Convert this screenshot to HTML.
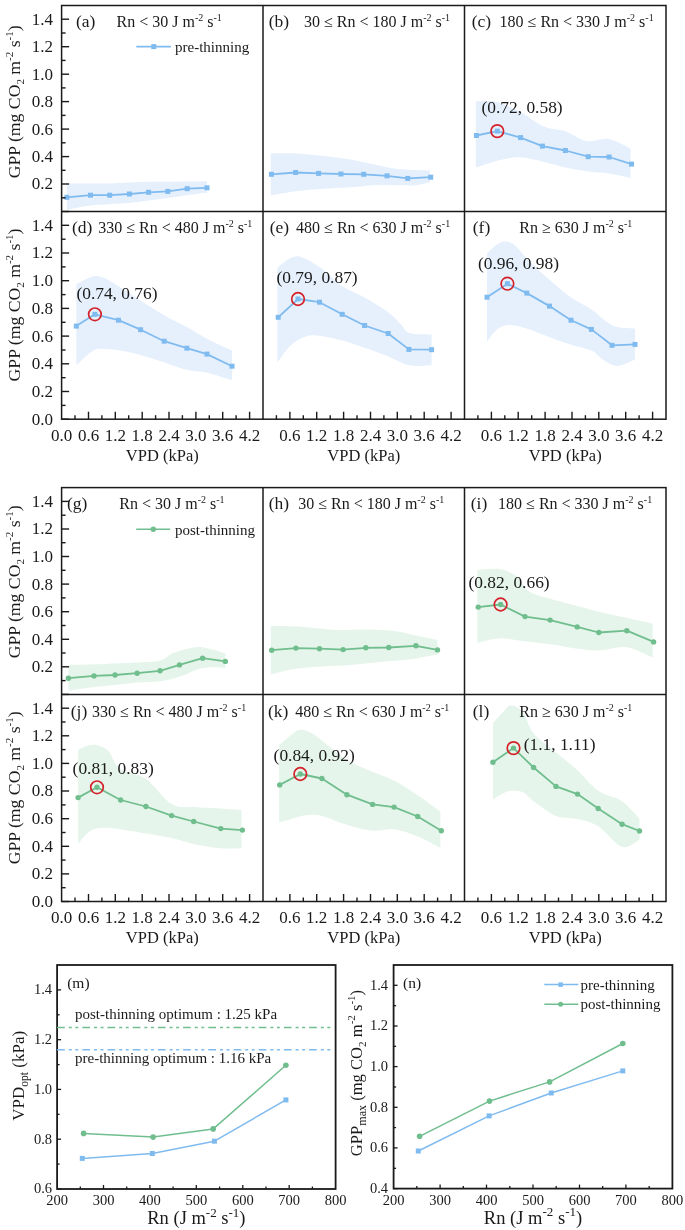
<!DOCTYPE html><html><head><meta charset="utf-8"><style>html,body{margin:0;padding:0;background:#fff;width:685px;height:1230px;overflow:hidden;position:relative}</style></head><body><svg width="685" height="1230" viewBox="0 0 685 1230" style="position:absolute;left:0;top:0;filter:blur(0.4px)">
<g font-family='"Liberation Serif", serif' fill="#1a1a1a">
<path d="M66.9,183.6C74.0,183.6 96.1,183.7 109.7,183.4C123.3,183.1 135.7,182.1 148.6,181.8C161.5,181.5 177.5,181.7 187.2,181.6C196.9,181.5 203.7,181.4 207.0,181.3L207.0,192.8C203.7,193.2 196.9,193.9 187.2,195.2C177.5,196.5 158.2,199.3 148.6,200.6C139.0,201.9 139.1,202.2 129.4,203.0C119.7,203.8 100.9,204.3 90.5,205.5C80.1,206.7 70.8,209.2 66.9,210.0Z" fill="#e6f0fd"/>
<path d="M270.8,153.4C275.2,153.4 289.0,153.0 297.4,153.4C305.8,153.8 312.1,154.7 321.0,155.7C329.9,156.7 341.7,158.0 350.5,159.5C359.3,161.0 366.1,163.0 374.0,164.6C381.9,166.2 388.3,168.0 397.7,169.0C407.1,170.0 424.7,170.2 430.1,170.5L430.1,182.2C427.6,182.7 420.4,184.7 415.0,185.2C409.6,185.7 404.5,185.2 397.7,185.2C390.9,185.2 381.9,184.8 374.0,185.2C366.1,185.5 359.3,186.7 350.5,187.3C341.7,187.9 329.9,188.4 321.0,189.0C312.1,189.6 305.8,190.0 297.4,191.1C289.0,192.2 275.2,194.8 270.8,195.5Z" fill="#e6f0fd"/>
<path d="M475.8,101.3C478.8,101.3 486.6,99.8 493.5,101.3C500.4,102.8 508.8,105.9 517.1,110.1C525.5,114.3 535.7,123.0 543.6,126.4C551.5,129.9 557.2,128.4 564.3,130.8C571.4,133.2 579.0,139.7 586.4,141.1C593.8,142.5 601.1,137.8 608.5,139.0C615.9,140.2 626.9,146.9 630.6,148.5L630.6,178.0C626.9,177.2 615.6,174.6 608.5,173.5C601.4,172.4 595.0,172.5 587.9,171.5C580.8,170.5 573.1,169.2 565.7,167.6C558.3,166.0 551.2,163.4 543.6,161.7C536.0,160.0 527.4,157.5 520.0,157.3C512.6,157.1 506.8,158.6 499.4,160.3C492.0,162.0 479.7,166.4 475.8,167.6Z" fill="#e6f0fd"/>
<path d="M76.3,284.2C79.2,282.9 88.6,277.3 93.4,276.3C98.2,275.3 100.8,276.6 105.2,278.4C109.6,280.2 114.1,283.5 120.0,287.2C125.9,290.9 133.2,295.8 140.6,300.5C148.0,305.2 156.5,310.8 164.2,315.2C171.9,319.6 179.8,323.1 186.9,327.0C194.0,330.9 199.5,334.9 207.0,338.8C214.5,342.7 227.8,348.6 232.0,350.6L232.0,380.1C227.8,378.9 214.5,374.4 207.0,372.7C199.5,371.0 194.0,371.5 186.9,369.8C179.8,368.1 171.9,364.9 164.2,362.4C156.5,359.9 148.0,357.0 140.6,355.0C133.2,353.0 125.9,351.6 120.0,350.6C114.1,349.6 109.6,349.1 105.2,349.1C100.8,349.1 98.2,347.9 93.4,350.6C88.6,353.3 79.2,362.9 76.3,365.3Z" fill="#e6f0fd"/>
<path d="M277.3,268.0C279.2,266.5 284.7,261.1 288.5,259.2C292.3,257.3 294.9,255.3 300.3,256.8C305.7,258.3 314.1,263.2 321.0,268.0C327.9,272.8 334.3,280.8 341.6,285.7C348.9,290.6 356.8,293.1 364.6,297.5C372.4,301.9 382.2,307.9 388.2,312.3C394.2,316.7 397.1,320.7 400.6,324.1C404.1,327.5 404.2,331.2 409.4,332.9C414.6,334.6 427.9,334.1 431.6,334.4L431.6,365.3C427.9,365.3 416.6,366.8 409.4,365.3C402.2,363.8 395.7,359.4 388.2,356.5C380.7,353.6 372.4,350.4 364.6,347.7C356.8,345.0 348.9,342.3 341.6,340.3C334.3,338.3 326.9,336.5 321.0,335.9C315.1,335.2 311.1,334.9 306.2,336.4C301.3,337.9 296.3,340.4 291.5,344.7C286.7,349.0 279.7,359.4 277.3,362.4Z" fill="#e6f0fd"/>
<path d="M487.0,253.3C488.6,251.9 493.3,247.0 496.4,245.0C499.4,243.0 502.1,241.3 505.3,241.5C508.5,241.7 511.9,243.0 515.6,245.9C519.3,248.8 521.8,253.5 527.4,259.2C533.0,264.8 542.2,273.4 549.5,279.8C556.8,286.2 564.0,292.6 571.0,297.5C578.0,302.4 585.6,305.4 591.4,309.3C597.1,313.2 601.2,318.2 605.5,321.1C609.8,324.1 612.4,325.8 617.3,327.0C622.2,328.2 632.0,328.2 635.0,328.5L635.0,359.5C632.0,360.6 622.7,365.9 617.3,365.9C611.9,365.9 606.9,362.1 602.6,359.5C598.3,356.9 596.7,353.1 591.4,350.6C586.1,348.1 578.0,346.9 571.0,344.7C564.0,342.5 556.9,340.0 549.5,337.3C542.1,334.6 533.7,330.6 526.8,328.5C519.9,326.4 513.3,324.8 508.2,325.0C503.1,325.2 499.9,327.2 496.4,330.0C492.9,332.8 488.6,339.8 487.0,341.8Z" fill="#e6f0fd"/>
<path d="M68.4,664.9C74.5,664.8 94.2,664.4 105.2,664.0C116.2,663.6 125.5,663.2 134.7,662.6C143.8,662.0 153.7,662.1 160.1,660.5C166.5,658.9 168.5,655.1 173.1,653.1C177.7,651.1 182.9,649.7 187.8,648.7C192.7,647.7 196.3,646.5 202.6,647.2C208.8,647.9 221.5,652.1 225.3,653.1L225.3,667.9C221.5,667.9 210.2,666.4 202.6,667.9C195.0,669.4 186.6,674.5 179.5,676.7C172.4,678.9 167.2,680.2 160.1,681.2C153.0,682.2 144.6,682.0 137.1,682.6C129.6,683.2 122.2,684.2 115.0,685.0C107.8,685.8 101.8,686.1 94.0,687.1C86.2,688.1 72.7,690.3 68.4,690.9Z" fill="#e6f5eb"/>
<path d="M270.8,625.7C275.2,625.9 286.6,625.9 297.4,626.6C308.2,627.3 324.4,629.6 335.7,630.1C347.0,630.6 355.4,629.4 365.2,629.5C375.0,629.6 386.3,630.0 394.7,631.0C403.1,632.0 408.2,634.0 415.3,635.5C422.4,637.0 433.8,639.2 437.5,639.9L437.5,654.6C432.8,655.4 419.0,658.4 409.4,659.6C399.8,660.8 389.8,661.1 380.0,662.0C370.2,662.9 360.3,664.2 350.5,664.9C340.7,665.6 330.8,665.6 321.0,666.4C311.2,667.1 299.9,668.1 291.5,669.4C283.1,670.7 274.2,673.6 270.8,674.4Z" fill="#e6f5eb"/>
<path d="M477.3,570.0C481.0,569.9 492.8,568.0 499.4,569.1C506.0,570.2 512.2,572.8 517.1,576.5C522.0,580.2 523.5,587.5 528.9,591.2C534.3,594.9 541.5,596.1 549.5,598.6C557.5,601.1 568.8,603.8 577.2,606.0C585.6,608.2 591.4,609.9 599.7,611.9C608.0,613.9 618.0,615.8 626.8,617.8C635.6,619.8 648.4,622.7 652.7,623.7L652.7,657.6C648.4,655.9 635.6,648.4 626.8,647.2C618.0,646.0 608.0,650.0 599.7,650.2C591.4,650.5 585.5,649.7 577.2,648.7C568.9,647.7 558.8,645.5 550.1,644.3C541.4,643.1 533.5,642.3 525.0,641.3C516.5,640.3 507.3,638.1 499.4,638.4C491.4,638.6 481.0,642.1 477.3,642.8Z" fill="#e6f5eb"/>
<path d="M78.1,749.6C79.7,749.0 84.5,746.5 87.5,745.7C90.5,745.0 93.0,744.2 96.4,745.1C99.9,746.0 104.3,747.1 108.2,751.0C112.1,754.9 113.7,764.0 120.0,768.7C126.3,773.4 137.3,773.1 145.9,779.0C154.5,784.9 163.6,799.4 171.6,804.1C179.6,808.8 185.5,806.4 193.7,807.1C201.9,807.8 212.8,808.0 220.8,808.5C228.8,809.0 238.1,809.8 241.5,810.0L241.5,848.3C238.1,848.3 228.8,849.0 220.8,848.3C212.8,847.6 201.9,845.6 193.7,843.9C185.5,842.2 179.6,839.7 171.6,838.0C163.6,836.3 154.4,835.1 145.9,833.6C137.4,832.1 127.4,830.2 120.6,829.2C113.8,828.2 110.2,827.5 105.2,827.7C100.2,828.0 95.0,828.0 90.5,830.7C86.0,833.4 80.2,841.7 78.1,843.9Z" fill="#e6f5eb"/>
<path d="M279.1,745.1C281.2,743.4 288.0,737.3 291.5,734.8C295.0,732.2 296.9,730.0 300.3,729.8C303.7,729.5 308.2,731.2 312.1,733.3C316.0,735.4 318.1,737.8 323.9,742.2C329.7,746.6 338.8,755.0 346.9,759.9C355.0,764.8 364.7,768.3 372.6,771.7C380.5,775.1 386.6,776.6 394.1,780.5C401.6,784.4 410.0,790.1 417.7,795.3C425.4,800.5 436.6,808.8 440.4,811.5L440.4,847.8C436.6,845.9 425.4,839.6 417.7,836.5C410.0,833.4 401.6,830.2 394.1,829.2C386.6,828.2 380.5,831.4 372.6,830.7C364.7,830.0 355.3,827.3 346.9,824.8C338.4,822.3 328.7,817.5 321.9,815.9C315.1,814.3 311.3,814.8 306.2,815.3C301.1,815.8 296.0,817.7 291.5,818.9C287.0,820.1 281.2,821.8 279.1,822.4Z" fill="#e6f5eb"/>
<path d="M492.9,723.0C494.5,721.3 499.2,715.7 502.3,712.7C505.4,709.8 507.8,705.3 511.2,705.3C514.6,705.3 519.3,708.0 523.0,712.7C526.7,717.4 528.1,726.7 533.6,733.3C539.1,739.9 548.7,746.4 556.0,752.5C563.3,758.6 570.5,763.8 577.5,770.2C584.5,776.6 590.8,785.6 598.2,790.8C605.6,796.0 615.2,796.5 622.1,801.2C629.0,805.9 636.6,816.0 639.5,818.9L639.5,839.5C636.6,840.7 629.0,849.1 622.1,846.9C615.2,844.7 605.6,830.9 598.2,826.2C590.8,821.5 584.5,820.6 577.5,818.9C570.5,817.2 563.3,818.8 556.0,815.9C548.7,813.0 539.1,805.1 533.6,801.2C528.1,797.3 526.7,794.0 523.0,792.3C519.3,790.6 514.6,790.5 511.2,790.8C507.8,791.0 505.4,792.3 502.3,793.8C499.2,795.3 494.5,798.7 492.9,799.7Z" fill="#e6f5eb"/>
<polyline points="66.9,197.3 90.5,195.2 109.7,195.2 129.4,194.0 148.6,192.3 167.8,191.4 187.2,188.7 207.0,187.8" fill="none" stroke="#80bbf0" stroke-width="1.8" stroke-linejoin="round"/>
<rect x="64.4" y="194.8" width="5.0" height="5.0" fill="#80bbf0"/>
<rect x="88.0" y="192.7" width="5.0" height="5.0" fill="#80bbf0"/>
<rect x="107.2" y="192.7" width="5.0" height="5.0" fill="#80bbf0"/>
<rect x="126.9" y="191.5" width="5.0" height="5.0" fill="#80bbf0"/>
<rect x="146.1" y="189.8" width="5.0" height="5.0" fill="#80bbf0"/>
<rect x="165.3" y="188.9" width="5.0" height="5.0" fill="#80bbf0"/>
<rect x="184.7" y="186.2" width="5.0" height="5.0" fill="#80bbf0"/>
<rect x="204.5" y="185.3" width="5.0" height="5.0" fill="#80bbf0"/>
<polyline points="271.4,174.3 295.6,172.5 318.6,173.4 341.0,174.0 363.7,174.3 387.0,175.8 407.7,178.4 430.7,177.2" fill="none" stroke="#80bbf0" stroke-width="1.8" stroke-linejoin="round"/>
<rect x="268.9" y="171.8" width="5.0" height="5.0" fill="#80bbf0"/>
<rect x="293.1" y="170.0" width="5.0" height="5.0" fill="#80bbf0"/>
<rect x="316.1" y="170.9" width="5.0" height="5.0" fill="#80bbf0"/>
<rect x="338.5" y="171.5" width="5.0" height="5.0" fill="#80bbf0"/>
<rect x="361.2" y="171.8" width="5.0" height="5.0" fill="#80bbf0"/>
<rect x="384.5" y="173.3" width="5.0" height="5.0" fill="#80bbf0"/>
<rect x="405.2" y="175.9" width="5.0" height="5.0" fill="#80bbf0"/>
<rect x="428.2" y="174.7" width="5.0" height="5.0" fill="#80bbf0"/>
<polyline points="476.4,135.5 497.3,131.1 520.6,137.6 542.4,146.1 565.4,150.5 588.2,156.7 609.1,157.0 631.5,164.1" fill="none" stroke="#80bbf0" stroke-width="1.8" stroke-linejoin="round"/>
<rect x="473.9" y="133.0" width="5.0" height="5.0" fill="#80bbf0"/>
<rect x="494.8" y="128.6" width="5.0" height="5.0" fill="#80bbf0"/>
<rect x="518.1" y="135.1" width="5.0" height="5.0" fill="#80bbf0"/>
<rect x="539.9" y="143.6" width="5.0" height="5.0" fill="#80bbf0"/>
<rect x="562.9" y="148.0" width="5.0" height="5.0" fill="#80bbf0"/>
<rect x="585.7" y="154.2" width="5.0" height="5.0" fill="#80bbf0"/>
<rect x="606.6" y="154.5" width="5.0" height="5.0" fill="#80bbf0"/>
<rect x="629.0" y="161.6" width="5.0" height="5.0" fill="#80bbf0"/>
<circle cx="497.3" cy="131.1" r="6.3" fill="none" stroke="#d3222a" stroke-width="1.7"/>
<text x="481.5" y="112.5" font-size="17.4" text-anchor="start" >(0.72, 0.58)</text>
<polyline points="76.3,326.1 94.9,314.3 118.5,320.2 140.6,329.7 164.2,341.2 186.9,348.2 207.0,354.1 232.0,366.2" fill="none" stroke="#80bbf0" stroke-width="1.8" stroke-linejoin="round"/>
<rect x="73.8" y="323.6" width="5.0" height="5.0" fill="#80bbf0"/>
<rect x="92.4" y="311.8" width="5.0" height="5.0" fill="#80bbf0"/>
<rect x="116.0" y="317.7" width="5.0" height="5.0" fill="#80bbf0"/>
<rect x="138.1" y="327.2" width="5.0" height="5.0" fill="#80bbf0"/>
<rect x="161.7" y="338.7" width="5.0" height="5.0" fill="#80bbf0"/>
<rect x="184.4" y="345.7" width="5.0" height="5.0" fill="#80bbf0"/>
<rect x="204.5" y="351.6" width="5.0" height="5.0" fill="#80bbf0"/>
<rect x="229.5" y="363.7" width="5.0" height="5.0" fill="#80bbf0"/>
<circle cx="94.9" cy="314.3" r="6.3" fill="none" stroke="#d3222a" stroke-width="1.7"/>
<text x="76.4" y="299" font-size="17.4" text-anchor="start" >(0.74, 0.76)</text>
<polyline points="278.2,317.3 298.0,299.0 319.5,302.2 342.2,314.3 364.6,325.5 388.2,333.5 408.9,349.4 431.6,349.7" fill="none" stroke="#80bbf0" stroke-width="1.8" stroke-linejoin="round"/>
<rect x="275.7" y="314.8" width="5.0" height="5.0" fill="#80bbf0"/>
<rect x="295.5" y="296.5" width="5.0" height="5.0" fill="#80bbf0"/>
<rect x="317.0" y="299.7" width="5.0" height="5.0" fill="#80bbf0"/>
<rect x="339.7" y="311.8" width="5.0" height="5.0" fill="#80bbf0"/>
<rect x="362.1" y="323.0" width="5.0" height="5.0" fill="#80bbf0"/>
<rect x="385.7" y="331.0" width="5.0" height="5.0" fill="#80bbf0"/>
<rect x="406.4" y="346.9" width="5.0" height="5.0" fill="#80bbf0"/>
<rect x="429.1" y="347.2" width="5.0" height="5.0" fill="#80bbf0"/>
<circle cx="298.0" cy="299.0" r="6.3" fill="none" stroke="#d3222a" stroke-width="1.7"/>
<text x="276.5" y="282.8" font-size="17.4" text-anchor="start" >(0.79, 0.87)</text>
<polyline points="487.0,297.2 507.4,283.7 526.8,293.1 549.5,306.1 571.0,320.2 591.4,329.4 612.0,345.3 635.0,344.4" fill="none" stroke="#80bbf0" stroke-width="1.8" stroke-linejoin="round"/>
<rect x="484.5" y="294.7" width="5.0" height="5.0" fill="#80bbf0"/>
<rect x="504.9" y="281.2" width="5.0" height="5.0" fill="#80bbf0"/>
<rect x="524.3" y="290.6" width="5.0" height="5.0" fill="#80bbf0"/>
<rect x="547.0" y="303.6" width="5.0" height="5.0" fill="#80bbf0"/>
<rect x="568.5" y="317.7" width="5.0" height="5.0" fill="#80bbf0"/>
<rect x="588.9" y="326.9" width="5.0" height="5.0" fill="#80bbf0"/>
<rect x="609.5" y="342.8" width="5.0" height="5.0" fill="#80bbf0"/>
<rect x="632.5" y="341.9" width="5.0" height="5.0" fill="#80bbf0"/>
<circle cx="507.4" cy="283.7" r="6.3" fill="none" stroke="#d3222a" stroke-width="1.7"/>
<text x="477.9" y="268.6" font-size="17.4" text-anchor="start" >(0.96, 0.98)</text>
<polyline points="68.4,678.2 94.0,675.9 115.0,675.0 137.1,673.2 160.1,670.8 179.5,664.9 202.6,658.2 225.3,661.4" fill="none" stroke="#70be8e" stroke-width="1.8" stroke-linejoin="round"/>
<circle cx="68.4" cy="678.2" r="2.7" fill="#70be8e"/>
<circle cx="94.0" cy="675.9" r="2.7" fill="#70be8e"/>
<circle cx="115.0" cy="675.0" r="2.7" fill="#70be8e"/>
<circle cx="137.1" cy="673.2" r="2.7" fill="#70be8e"/>
<circle cx="160.1" cy="670.8" r="2.7" fill="#70be8e"/>
<circle cx="179.5" cy="664.9" r="2.7" fill="#70be8e"/>
<circle cx="202.6" cy="658.2" r="2.7" fill="#70be8e"/>
<circle cx="225.3" cy="661.4" r="2.7" fill="#70be8e"/>
<polyline points="271.7,650.2 295.9,648.1 319.5,648.7 343.1,649.6 365.8,647.8 388.8,647.5 415.9,645.8 437.5,649.9" fill="none" stroke="#70be8e" stroke-width="1.8" stroke-linejoin="round"/>
<circle cx="271.7" cy="650.2" r="2.7" fill="#70be8e"/>
<circle cx="295.9" cy="648.1" r="2.7" fill="#70be8e"/>
<circle cx="319.5" cy="648.7" r="2.7" fill="#70be8e"/>
<circle cx="343.1" cy="649.6" r="2.7" fill="#70be8e"/>
<circle cx="365.8" cy="647.8" r="2.7" fill="#70be8e"/>
<circle cx="388.8" cy="647.5" r="2.7" fill="#70be8e"/>
<circle cx="415.9" cy="645.8" r="2.7" fill="#70be8e"/>
<circle cx="437.5" cy="649.9" r="2.7" fill="#70be8e"/>
<polyline points="478.2,607.1 500.6,604.5 525.0,616.6 550.1,620.1 577.2,626.9 598.8,632.5 626.8,630.7 653.6,641.9" fill="none" stroke="#70be8e" stroke-width="1.8" stroke-linejoin="round"/>
<circle cx="478.2" cy="607.1" r="2.7" fill="#70be8e"/>
<circle cx="500.6" cy="604.5" r="2.7" fill="#70be8e"/>
<circle cx="525.0" cy="616.6" r="2.7" fill="#70be8e"/>
<circle cx="550.1" cy="620.1" r="2.7" fill="#70be8e"/>
<circle cx="577.2" cy="626.9" r="2.7" fill="#70be8e"/>
<circle cx="598.8" cy="632.5" r="2.7" fill="#70be8e"/>
<circle cx="626.8" cy="630.7" r="2.7" fill="#70be8e"/>
<circle cx="653.6" cy="641.9" r="2.7" fill="#70be8e"/>
<circle cx="500.6" cy="604.5" r="6.3" fill="none" stroke="#d3222a" stroke-width="1.7"/>
<text x="468.5" y="588.3" font-size="17.4" text-anchor="start" >(0.82, 0.66)</text>
<polyline points="78.1,797.6 97.0,787.3 120.6,800.0 145.9,806.5 171.6,815.6 193.7,821.5 220.8,828.6 242.4,830.1" fill="none" stroke="#70be8e" stroke-width="1.8" stroke-linejoin="round"/>
<circle cx="78.1" cy="797.6" r="2.7" fill="#70be8e"/>
<circle cx="97.0" cy="787.3" r="2.7" fill="#70be8e"/>
<circle cx="120.6" cy="800.0" r="2.7" fill="#70be8e"/>
<circle cx="145.9" cy="806.5" r="2.7" fill="#70be8e"/>
<circle cx="171.6" cy="815.6" r="2.7" fill="#70be8e"/>
<circle cx="193.7" cy="821.5" r="2.7" fill="#70be8e"/>
<circle cx="220.8" cy="828.6" r="2.7" fill="#70be8e"/>
<circle cx="242.4" cy="830.1" r="2.7" fill="#70be8e"/>
<circle cx="97.0" cy="787.3" r="6.3" fill="none" stroke="#d3222a" stroke-width="1.7"/>
<text x="72.6" y="774" font-size="17.4" text-anchor="start" >(0.81, 0.83)</text>
<polyline points="279.7,784.9 300.3,774.0 321.9,778.5 346.9,794.7 372.6,804.4 394.1,807.1 417.7,816.5 441.3,830.7" fill="none" stroke="#70be8e" stroke-width="1.8" stroke-linejoin="round"/>
<circle cx="279.7" cy="784.9" r="2.7" fill="#70be8e"/>
<circle cx="300.3" cy="774.0" r="2.7" fill="#70be8e"/>
<circle cx="321.9" cy="778.5" r="2.7" fill="#70be8e"/>
<circle cx="346.9" cy="794.7" r="2.7" fill="#70be8e"/>
<circle cx="372.6" cy="804.4" r="2.7" fill="#70be8e"/>
<circle cx="394.1" cy="807.1" r="2.7" fill="#70be8e"/>
<circle cx="417.7" cy="816.5" r="2.7" fill="#70be8e"/>
<circle cx="441.3" cy="830.7" r="2.7" fill="#70be8e"/>
<circle cx="300.3" cy="774.0" r="6.3" fill="none" stroke="#d3222a" stroke-width="1.7"/>
<text x="273.6" y="760.5" font-size="17.4" text-anchor="start" >(0.84, 0.92)</text>
<polyline points="492.9,762.2 513.5,748.1 533.6,767.5 556.0,786.4 577.5,794.1 598.2,808.5 622.1,824.2 639.5,831.0" fill="none" stroke="#70be8e" stroke-width="1.8" stroke-linejoin="round"/>
<circle cx="492.9" cy="762.2" r="2.7" fill="#70be8e"/>
<circle cx="513.5" cy="748.1" r="2.7" fill="#70be8e"/>
<circle cx="533.6" cy="767.5" r="2.7" fill="#70be8e"/>
<circle cx="556.0" cy="786.4" r="2.7" fill="#70be8e"/>
<circle cx="577.5" cy="794.1" r="2.7" fill="#70be8e"/>
<circle cx="598.2" cy="808.5" r="2.7" fill="#70be8e"/>
<circle cx="622.1" cy="824.2" r="2.7" fill="#70be8e"/>
<circle cx="639.5" cy="831.0" r="2.7" fill="#70be8e"/>
<circle cx="513.5" cy="748.1" r="6.3" fill="none" stroke="#d3222a" stroke-width="1.7"/>
<text x="523.7" y="749.6" font-size="17.4" text-anchor="start" >(1.1, 1.11)</text>
<rect x="61.6" y="5.5" width="604.4" height="413.7" fill="none" stroke="#1a1a1a" stroke-width="1.5"/>
<line x1="263.0" y1="5.5" x2="263.0" y2="419.2" stroke="#1a1a1a" stroke-width="1.5"/>
<line x1="464.5" y1="5.5" x2="464.5" y2="419.2" stroke="#1a1a1a" stroke-width="1.5"/>
<line x1="61.6" y1="211.5" x2="666.0" y2="211.5" stroke="#1a1a1a" stroke-width="1.5"/>
<line x1="61.6" y1="211.5" x2="69.1" y2="211.5" stroke="#1a1a1a" stroke-width="1.4"/>
<line x1="61.6" y1="197.8" x2="65.6" y2="197.8" stroke="#1a1a1a" stroke-width="1.4"/>
<line x1="61.6" y1="184.0" x2="69.1" y2="184.0" stroke="#1a1a1a" stroke-width="1.4"/>
<text x="53" y="189.4" font-size="17" text-anchor="end" >0.2</text>
<line x1="61.6" y1="170.3" x2="65.6" y2="170.3" stroke="#1a1a1a" stroke-width="1.4"/>
<line x1="61.6" y1="156.6" x2="69.1" y2="156.6" stroke="#1a1a1a" stroke-width="1.4"/>
<text x="53" y="162.0" font-size="17" text-anchor="end" >0.4</text>
<line x1="61.6" y1="142.8" x2="65.6" y2="142.8" stroke="#1a1a1a" stroke-width="1.4"/>
<line x1="61.6" y1="129.1" x2="69.1" y2="129.1" stroke="#1a1a1a" stroke-width="1.4"/>
<text x="53" y="134.5" font-size="17" text-anchor="end" >0.6</text>
<line x1="61.6" y1="115.4" x2="65.6" y2="115.4" stroke="#1a1a1a" stroke-width="1.4"/>
<line x1="61.6" y1="101.6" x2="69.1" y2="101.6" stroke="#1a1a1a" stroke-width="1.4"/>
<text x="53" y="107.0" font-size="17" text-anchor="end" >0.8</text>
<line x1="61.6" y1="87.9" x2="65.6" y2="87.9" stroke="#1a1a1a" stroke-width="1.4"/>
<line x1="61.6" y1="74.2" x2="69.1" y2="74.2" stroke="#1a1a1a" stroke-width="1.4"/>
<text x="53" y="79.6" font-size="17" text-anchor="end" >1.0</text>
<line x1="61.6" y1="60.4" x2="65.6" y2="60.4" stroke="#1a1a1a" stroke-width="1.4"/>
<line x1="61.6" y1="46.7" x2="69.1" y2="46.7" stroke="#1a1a1a" stroke-width="1.4"/>
<text x="53" y="52.1" font-size="17" text-anchor="end" >1.2</text>
<line x1="61.6" y1="33.0" x2="65.6" y2="33.0" stroke="#1a1a1a" stroke-width="1.4"/>
<line x1="61.6" y1="19.2" x2="69.1" y2="19.2" stroke="#1a1a1a" stroke-width="1.4"/>
<text x="53" y="24.6" font-size="17" text-anchor="end" >1.4</text>
<line x1="61.6" y1="419.2" x2="69.1" y2="419.2" stroke="#1a1a1a" stroke-width="1.4"/>
<text x="53" y="424.6" font-size="17" text-anchor="end" >0.0</text>
<line x1="61.6" y1="405.4" x2="65.6" y2="405.4" stroke="#1a1a1a" stroke-width="1.4"/>
<line x1="61.6" y1="391.5" x2="69.1" y2="391.5" stroke="#1a1a1a" stroke-width="1.4"/>
<text x="53" y="396.9" font-size="17" text-anchor="end" >0.2</text>
<line x1="61.6" y1="377.7" x2="65.6" y2="377.7" stroke="#1a1a1a" stroke-width="1.4"/>
<line x1="61.6" y1="363.8" x2="69.1" y2="363.8" stroke="#1a1a1a" stroke-width="1.4"/>
<text x="53" y="369.2" font-size="17" text-anchor="end" >0.4</text>
<line x1="61.6" y1="350.0" x2="65.6" y2="350.0" stroke="#1a1a1a" stroke-width="1.4"/>
<line x1="61.6" y1="336.1" x2="69.1" y2="336.1" stroke="#1a1a1a" stroke-width="1.4"/>
<text x="53" y="341.5" font-size="17" text-anchor="end" >0.6</text>
<line x1="61.6" y1="322.3" x2="65.6" y2="322.3" stroke="#1a1a1a" stroke-width="1.4"/>
<line x1="61.6" y1="308.4" x2="69.1" y2="308.4" stroke="#1a1a1a" stroke-width="1.4"/>
<text x="53" y="313.8" font-size="17" text-anchor="end" >0.8</text>
<line x1="61.6" y1="294.6" x2="65.6" y2="294.6" stroke="#1a1a1a" stroke-width="1.4"/>
<line x1="61.6" y1="280.7" x2="69.1" y2="280.7" stroke="#1a1a1a" stroke-width="1.4"/>
<text x="53" y="286.1" font-size="17" text-anchor="end" >1.0</text>
<line x1="61.6" y1="266.9" x2="65.6" y2="266.9" stroke="#1a1a1a" stroke-width="1.4"/>
<line x1="61.6" y1="253.0" x2="69.1" y2="253.0" stroke="#1a1a1a" stroke-width="1.4"/>
<text x="53" y="258.4" font-size="17" text-anchor="end" >1.2</text>
<line x1="61.6" y1="239.2" x2="65.6" y2="239.2" stroke="#1a1a1a" stroke-width="1.4"/>
<line x1="61.6" y1="225.3" x2="69.1" y2="225.3" stroke="#1a1a1a" stroke-width="1.4"/>
<text x="53" y="230.7" font-size="17" text-anchor="end" >1.4</text>
<line x1="75.0" y1="419.2" x2="75.0" y2="415.2" stroke="#1a1a1a" stroke-width="1.4"/>
<line x1="88.5" y1="419.2" x2="88.5" y2="411.7" stroke="#1a1a1a" stroke-width="1.4"/>
<text x="88.5" y="440.5" font-size="17" text-anchor="middle" >0.6</text>
<line x1="101.9" y1="419.2" x2="101.9" y2="415.2" stroke="#1a1a1a" stroke-width="1.4"/>
<line x1="115.3" y1="419.2" x2="115.3" y2="411.7" stroke="#1a1a1a" stroke-width="1.4"/>
<text x="115.3" y="440.5" font-size="17" text-anchor="middle" >1.2</text>
<line x1="128.7" y1="419.2" x2="128.7" y2="415.2" stroke="#1a1a1a" stroke-width="1.4"/>
<line x1="142.2" y1="419.2" x2="142.2" y2="411.7" stroke="#1a1a1a" stroke-width="1.4"/>
<text x="142.2" y="440.5" font-size="17" text-anchor="middle" >1.8</text>
<line x1="155.6" y1="419.2" x2="155.6" y2="415.2" stroke="#1a1a1a" stroke-width="1.4"/>
<line x1="169.0" y1="419.2" x2="169.0" y2="411.7" stroke="#1a1a1a" stroke-width="1.4"/>
<text x="169.0" y="440.5" font-size="17" text-anchor="middle" >2.4</text>
<line x1="182.4" y1="419.2" x2="182.4" y2="415.2" stroke="#1a1a1a" stroke-width="1.4"/>
<line x1="195.9" y1="419.2" x2="195.9" y2="411.7" stroke="#1a1a1a" stroke-width="1.4"/>
<text x="195.9" y="440.5" font-size="17" text-anchor="middle" >3.0</text>
<line x1="209.3" y1="419.2" x2="209.3" y2="415.2" stroke="#1a1a1a" stroke-width="1.4"/>
<line x1="222.7" y1="419.2" x2="222.7" y2="411.7" stroke="#1a1a1a" stroke-width="1.4"/>
<text x="222.7" y="440.5" font-size="17" text-anchor="middle" >3.6</text>
<line x1="236.1" y1="419.2" x2="236.1" y2="415.2" stroke="#1a1a1a" stroke-width="1.4"/>
<line x1="249.6" y1="419.2" x2="249.6" y2="411.7" stroke="#1a1a1a" stroke-width="1.4"/>
<text x="249.6" y="440.5" font-size="17" text-anchor="middle" >4.2</text>
<text x="61.6" y="440.5" font-size="17" text-anchor="middle" >0.0</text>
<text x="162.3" y="460.6" font-size="16.5" text-anchor="middle" >VPD (kPa)</text>
<line x1="276.4" y1="419.2" x2="276.4" y2="415.2" stroke="#1a1a1a" stroke-width="1.4"/>
<line x1="289.9" y1="419.2" x2="289.9" y2="411.7" stroke="#1a1a1a" stroke-width="1.4"/>
<text x="289.9" y="440.5" font-size="17" text-anchor="middle" >0.6</text>
<line x1="303.3" y1="419.2" x2="303.3" y2="415.2" stroke="#1a1a1a" stroke-width="1.4"/>
<line x1="316.7" y1="419.2" x2="316.7" y2="411.7" stroke="#1a1a1a" stroke-width="1.4"/>
<text x="316.7" y="440.5" font-size="17" text-anchor="middle" >1.2</text>
<line x1="330.2" y1="419.2" x2="330.2" y2="415.2" stroke="#1a1a1a" stroke-width="1.4"/>
<line x1="343.6" y1="419.2" x2="343.6" y2="411.7" stroke="#1a1a1a" stroke-width="1.4"/>
<text x="343.6" y="440.5" font-size="17" text-anchor="middle" >1.8</text>
<line x1="357.0" y1="419.2" x2="357.0" y2="415.2" stroke="#1a1a1a" stroke-width="1.4"/>
<line x1="370.5" y1="419.2" x2="370.5" y2="411.7" stroke="#1a1a1a" stroke-width="1.4"/>
<text x="370.5" y="440.5" font-size="17" text-anchor="middle" >2.4</text>
<line x1="383.9" y1="419.2" x2="383.9" y2="415.2" stroke="#1a1a1a" stroke-width="1.4"/>
<line x1="397.3" y1="419.2" x2="397.3" y2="411.7" stroke="#1a1a1a" stroke-width="1.4"/>
<text x="397.3" y="440.5" font-size="17" text-anchor="middle" >3.0</text>
<line x1="410.8" y1="419.2" x2="410.8" y2="415.2" stroke="#1a1a1a" stroke-width="1.4"/>
<line x1="424.2" y1="419.2" x2="424.2" y2="411.7" stroke="#1a1a1a" stroke-width="1.4"/>
<text x="424.2" y="440.5" font-size="17" text-anchor="middle" >3.6</text>
<line x1="437.6" y1="419.2" x2="437.6" y2="415.2" stroke="#1a1a1a" stroke-width="1.4"/>
<line x1="451.1" y1="419.2" x2="451.1" y2="411.7" stroke="#1a1a1a" stroke-width="1.4"/>
<text x="451.1" y="440.5" font-size="17" text-anchor="middle" >4.2</text>
<text x="363.8" y="460.6" font-size="16.5" text-anchor="middle" >VPD (kPa)</text>
<line x1="477.9" y1="419.2" x2="477.9" y2="415.2" stroke="#1a1a1a" stroke-width="1.4"/>
<line x1="491.4" y1="419.2" x2="491.4" y2="411.7" stroke="#1a1a1a" stroke-width="1.4"/>
<text x="491.4" y="440.5" font-size="17" text-anchor="middle" >0.6</text>
<line x1="504.8" y1="419.2" x2="504.8" y2="415.2" stroke="#1a1a1a" stroke-width="1.4"/>
<line x1="518.2" y1="419.2" x2="518.2" y2="411.7" stroke="#1a1a1a" stroke-width="1.4"/>
<text x="518.2" y="440.5" font-size="17" text-anchor="middle" >1.2</text>
<line x1="531.7" y1="419.2" x2="531.7" y2="415.2" stroke="#1a1a1a" stroke-width="1.4"/>
<line x1="545.1" y1="419.2" x2="545.1" y2="411.7" stroke="#1a1a1a" stroke-width="1.4"/>
<text x="545.1" y="440.5" font-size="17" text-anchor="middle" >1.8</text>
<line x1="558.5" y1="419.2" x2="558.5" y2="415.2" stroke="#1a1a1a" stroke-width="1.4"/>
<line x1="572.0" y1="419.2" x2="572.0" y2="411.7" stroke="#1a1a1a" stroke-width="1.4"/>
<text x="572.0" y="440.5" font-size="17" text-anchor="middle" >2.4</text>
<line x1="585.4" y1="419.2" x2="585.4" y2="415.2" stroke="#1a1a1a" stroke-width="1.4"/>
<line x1="598.8" y1="419.2" x2="598.8" y2="411.7" stroke="#1a1a1a" stroke-width="1.4"/>
<text x="598.8" y="440.5" font-size="17" text-anchor="middle" >3.0</text>
<line x1="612.3" y1="419.2" x2="612.3" y2="415.2" stroke="#1a1a1a" stroke-width="1.4"/>
<line x1="625.7" y1="419.2" x2="625.7" y2="411.7" stroke="#1a1a1a" stroke-width="1.4"/>
<text x="625.7" y="440.5" font-size="17" text-anchor="middle" >3.6</text>
<line x1="639.1" y1="419.2" x2="639.1" y2="415.2" stroke="#1a1a1a" stroke-width="1.4"/>
<line x1="652.6" y1="419.2" x2="652.6" y2="411.7" stroke="#1a1a1a" stroke-width="1.4"/>
<text x="652.6" y="440.5" font-size="17" text-anchor="middle" >4.2</text>
<text x="565.2" y="460.6" font-size="16.5" text-anchor="middle" >VPD (kPa)</text>
<rect x="61.6" y="487.6" width="604.4" height="413.9" fill="none" stroke="#1a1a1a" stroke-width="1.5"/>
<line x1="263.0" y1="487.6" x2="263.0" y2="901.5" stroke="#1a1a1a" stroke-width="1.5"/>
<line x1="464.5" y1="487.6" x2="464.5" y2="901.5" stroke="#1a1a1a" stroke-width="1.5"/>
<line x1="61.6" y1="694.4" x2="666.0" y2="694.4" stroke="#1a1a1a" stroke-width="1.5"/>
<line x1="61.6" y1="694.4" x2="69.1" y2="694.4" stroke="#1a1a1a" stroke-width="1.4"/>
<line x1="61.6" y1="680.6" x2="65.6" y2="680.6" stroke="#1a1a1a" stroke-width="1.4"/>
<line x1="61.6" y1="666.8" x2="69.1" y2="666.8" stroke="#1a1a1a" stroke-width="1.4"/>
<text x="53" y="672.2" font-size="17" text-anchor="end" >0.2</text>
<line x1="61.6" y1="653.0" x2="65.6" y2="653.0" stroke="#1a1a1a" stroke-width="1.4"/>
<line x1="61.6" y1="639.3" x2="69.1" y2="639.3" stroke="#1a1a1a" stroke-width="1.4"/>
<text x="53" y="644.7" font-size="17" text-anchor="end" >0.4</text>
<line x1="61.6" y1="625.5" x2="65.6" y2="625.5" stroke="#1a1a1a" stroke-width="1.4"/>
<line x1="61.6" y1="611.7" x2="69.1" y2="611.7" stroke="#1a1a1a" stroke-width="1.4"/>
<text x="53" y="617.1" font-size="17" text-anchor="end" >0.6</text>
<line x1="61.6" y1="597.9" x2="65.6" y2="597.9" stroke="#1a1a1a" stroke-width="1.4"/>
<line x1="61.6" y1="584.1" x2="69.1" y2="584.1" stroke="#1a1a1a" stroke-width="1.4"/>
<text x="53" y="589.5" font-size="17" text-anchor="end" >0.8</text>
<line x1="61.6" y1="570.3" x2="65.6" y2="570.3" stroke="#1a1a1a" stroke-width="1.4"/>
<line x1="61.6" y1="556.5" x2="69.1" y2="556.5" stroke="#1a1a1a" stroke-width="1.4"/>
<text x="53" y="561.9" font-size="17" text-anchor="end" >1.0</text>
<line x1="61.6" y1="542.7" x2="65.6" y2="542.7" stroke="#1a1a1a" stroke-width="1.4"/>
<line x1="61.6" y1="529.0" x2="69.1" y2="529.0" stroke="#1a1a1a" stroke-width="1.4"/>
<text x="53" y="534.4" font-size="17" text-anchor="end" >1.2</text>
<line x1="61.6" y1="515.2" x2="65.6" y2="515.2" stroke="#1a1a1a" stroke-width="1.4"/>
<line x1="61.6" y1="501.4" x2="69.1" y2="501.4" stroke="#1a1a1a" stroke-width="1.4"/>
<text x="53" y="506.8" font-size="17" text-anchor="end" >1.4</text>
<line x1="61.6" y1="901.5" x2="69.1" y2="901.5" stroke="#1a1a1a" stroke-width="1.4"/>
<text x="53" y="906.9" font-size="17" text-anchor="end" >0.0</text>
<line x1="61.6" y1="887.7" x2="65.6" y2="887.7" stroke="#1a1a1a" stroke-width="1.4"/>
<line x1="61.6" y1="873.9" x2="69.1" y2="873.9" stroke="#1a1a1a" stroke-width="1.4"/>
<text x="53" y="879.3" font-size="17" text-anchor="end" >0.2</text>
<line x1="61.6" y1="860.1" x2="65.6" y2="860.1" stroke="#1a1a1a" stroke-width="1.4"/>
<line x1="61.6" y1="846.3" x2="69.1" y2="846.3" stroke="#1a1a1a" stroke-width="1.4"/>
<text x="53" y="851.7" font-size="17" text-anchor="end" >0.4</text>
<line x1="61.6" y1="832.5" x2="65.6" y2="832.5" stroke="#1a1a1a" stroke-width="1.4"/>
<line x1="61.6" y1="818.7" x2="69.1" y2="818.7" stroke="#1a1a1a" stroke-width="1.4"/>
<text x="53" y="824.1" font-size="17" text-anchor="end" >0.6</text>
<line x1="61.6" y1="804.9" x2="65.6" y2="804.9" stroke="#1a1a1a" stroke-width="1.4"/>
<line x1="61.6" y1="791.0" x2="69.1" y2="791.0" stroke="#1a1a1a" stroke-width="1.4"/>
<text x="53" y="796.4" font-size="17" text-anchor="end" >0.8</text>
<line x1="61.6" y1="777.2" x2="65.6" y2="777.2" stroke="#1a1a1a" stroke-width="1.4"/>
<line x1="61.6" y1="763.4" x2="69.1" y2="763.4" stroke="#1a1a1a" stroke-width="1.4"/>
<text x="53" y="768.8" font-size="17" text-anchor="end" >1.0</text>
<line x1="61.6" y1="749.6" x2="65.6" y2="749.6" stroke="#1a1a1a" stroke-width="1.4"/>
<line x1="61.6" y1="735.8" x2="69.1" y2="735.8" stroke="#1a1a1a" stroke-width="1.4"/>
<text x="53" y="741.2" font-size="17" text-anchor="end" >1.2</text>
<line x1="61.6" y1="722.0" x2="65.6" y2="722.0" stroke="#1a1a1a" stroke-width="1.4"/>
<line x1="61.6" y1="708.2" x2="69.1" y2="708.2" stroke="#1a1a1a" stroke-width="1.4"/>
<text x="53" y="713.6" font-size="17" text-anchor="end" >1.4</text>
<line x1="75.0" y1="901.5" x2="75.0" y2="897.5" stroke="#1a1a1a" stroke-width="1.4"/>
<line x1="88.5" y1="901.5" x2="88.5" y2="894.0" stroke="#1a1a1a" stroke-width="1.4"/>
<text x="88.5" y="922.8" font-size="17" text-anchor="middle" >0.6</text>
<line x1="101.9" y1="901.5" x2="101.9" y2="897.5" stroke="#1a1a1a" stroke-width="1.4"/>
<line x1="115.3" y1="901.5" x2="115.3" y2="894.0" stroke="#1a1a1a" stroke-width="1.4"/>
<text x="115.3" y="922.8" font-size="17" text-anchor="middle" >1.2</text>
<line x1="128.7" y1="901.5" x2="128.7" y2="897.5" stroke="#1a1a1a" stroke-width="1.4"/>
<line x1="142.2" y1="901.5" x2="142.2" y2="894.0" stroke="#1a1a1a" stroke-width="1.4"/>
<text x="142.2" y="922.8" font-size="17" text-anchor="middle" >1.8</text>
<line x1="155.6" y1="901.5" x2="155.6" y2="897.5" stroke="#1a1a1a" stroke-width="1.4"/>
<line x1="169.0" y1="901.5" x2="169.0" y2="894.0" stroke="#1a1a1a" stroke-width="1.4"/>
<text x="169.0" y="922.8" font-size="17" text-anchor="middle" >2.4</text>
<line x1="182.4" y1="901.5" x2="182.4" y2="897.5" stroke="#1a1a1a" stroke-width="1.4"/>
<line x1="195.9" y1="901.5" x2="195.9" y2="894.0" stroke="#1a1a1a" stroke-width="1.4"/>
<text x="195.9" y="922.8" font-size="17" text-anchor="middle" >3.0</text>
<line x1="209.3" y1="901.5" x2="209.3" y2="897.5" stroke="#1a1a1a" stroke-width="1.4"/>
<line x1="222.7" y1="901.5" x2="222.7" y2="894.0" stroke="#1a1a1a" stroke-width="1.4"/>
<text x="222.7" y="922.8" font-size="17" text-anchor="middle" >3.6</text>
<line x1="236.1" y1="901.5" x2="236.1" y2="897.5" stroke="#1a1a1a" stroke-width="1.4"/>
<line x1="249.6" y1="901.5" x2="249.6" y2="894.0" stroke="#1a1a1a" stroke-width="1.4"/>
<text x="249.6" y="922.8" font-size="17" text-anchor="middle" >4.2</text>
<text x="61.6" y="922.8" font-size="17" text-anchor="middle" >0.0</text>
<text x="162.3" y="942.9" font-size="16.5" text-anchor="middle" >VPD (kPa)</text>
<line x1="276.4" y1="901.5" x2="276.4" y2="897.5" stroke="#1a1a1a" stroke-width="1.4"/>
<line x1="289.9" y1="901.5" x2="289.9" y2="894.0" stroke="#1a1a1a" stroke-width="1.4"/>
<text x="289.9" y="922.8" font-size="17" text-anchor="middle" >0.6</text>
<line x1="303.3" y1="901.5" x2="303.3" y2="897.5" stroke="#1a1a1a" stroke-width="1.4"/>
<line x1="316.7" y1="901.5" x2="316.7" y2="894.0" stroke="#1a1a1a" stroke-width="1.4"/>
<text x="316.7" y="922.8" font-size="17" text-anchor="middle" >1.2</text>
<line x1="330.2" y1="901.5" x2="330.2" y2="897.5" stroke="#1a1a1a" stroke-width="1.4"/>
<line x1="343.6" y1="901.5" x2="343.6" y2="894.0" stroke="#1a1a1a" stroke-width="1.4"/>
<text x="343.6" y="922.8" font-size="17" text-anchor="middle" >1.8</text>
<line x1="357.0" y1="901.5" x2="357.0" y2="897.5" stroke="#1a1a1a" stroke-width="1.4"/>
<line x1="370.5" y1="901.5" x2="370.5" y2="894.0" stroke="#1a1a1a" stroke-width="1.4"/>
<text x="370.5" y="922.8" font-size="17" text-anchor="middle" >2.4</text>
<line x1="383.9" y1="901.5" x2="383.9" y2="897.5" stroke="#1a1a1a" stroke-width="1.4"/>
<line x1="397.3" y1="901.5" x2="397.3" y2="894.0" stroke="#1a1a1a" stroke-width="1.4"/>
<text x="397.3" y="922.8" font-size="17" text-anchor="middle" >3.0</text>
<line x1="410.8" y1="901.5" x2="410.8" y2="897.5" stroke="#1a1a1a" stroke-width="1.4"/>
<line x1="424.2" y1="901.5" x2="424.2" y2="894.0" stroke="#1a1a1a" stroke-width="1.4"/>
<text x="424.2" y="922.8" font-size="17" text-anchor="middle" >3.6</text>
<line x1="437.6" y1="901.5" x2="437.6" y2="897.5" stroke="#1a1a1a" stroke-width="1.4"/>
<line x1="451.1" y1="901.5" x2="451.1" y2="894.0" stroke="#1a1a1a" stroke-width="1.4"/>
<text x="451.1" y="922.8" font-size="17" text-anchor="middle" >4.2</text>
<text x="363.8" y="942.9" font-size="16.5" text-anchor="middle" >VPD (kPa)</text>
<line x1="477.9" y1="901.5" x2="477.9" y2="897.5" stroke="#1a1a1a" stroke-width="1.4"/>
<line x1="491.4" y1="901.5" x2="491.4" y2="894.0" stroke="#1a1a1a" stroke-width="1.4"/>
<text x="491.4" y="922.8" font-size="17" text-anchor="middle" >0.6</text>
<line x1="504.8" y1="901.5" x2="504.8" y2="897.5" stroke="#1a1a1a" stroke-width="1.4"/>
<line x1="518.2" y1="901.5" x2="518.2" y2="894.0" stroke="#1a1a1a" stroke-width="1.4"/>
<text x="518.2" y="922.8" font-size="17" text-anchor="middle" >1.2</text>
<line x1="531.7" y1="901.5" x2="531.7" y2="897.5" stroke="#1a1a1a" stroke-width="1.4"/>
<line x1="545.1" y1="901.5" x2="545.1" y2="894.0" stroke="#1a1a1a" stroke-width="1.4"/>
<text x="545.1" y="922.8" font-size="17" text-anchor="middle" >1.8</text>
<line x1="558.5" y1="901.5" x2="558.5" y2="897.5" stroke="#1a1a1a" stroke-width="1.4"/>
<line x1="572.0" y1="901.5" x2="572.0" y2="894.0" stroke="#1a1a1a" stroke-width="1.4"/>
<text x="572.0" y="922.8" font-size="17" text-anchor="middle" >2.4</text>
<line x1="585.4" y1="901.5" x2="585.4" y2="897.5" stroke="#1a1a1a" stroke-width="1.4"/>
<line x1="598.8" y1="901.5" x2="598.8" y2="894.0" stroke="#1a1a1a" stroke-width="1.4"/>
<text x="598.8" y="922.8" font-size="17" text-anchor="middle" >3.0</text>
<line x1="612.3" y1="901.5" x2="612.3" y2="897.5" stroke="#1a1a1a" stroke-width="1.4"/>
<line x1="625.7" y1="901.5" x2="625.7" y2="894.0" stroke="#1a1a1a" stroke-width="1.4"/>
<text x="625.7" y="922.8" font-size="17" text-anchor="middle" >3.6</text>
<line x1="639.1" y1="901.5" x2="639.1" y2="897.5" stroke="#1a1a1a" stroke-width="1.4"/>
<line x1="652.6" y1="901.5" x2="652.6" y2="894.0" stroke="#1a1a1a" stroke-width="1.4"/>
<text x="652.6" y="922.8" font-size="17" text-anchor="middle" >4.2</text>
<text x="565.2" y="942.9" font-size="16.5" text-anchor="middle" >VPD (kPa)</text>
<text x="76.0" y="26.5" font-size="17.5" text-anchor="start" >(a)</text>
<text x="116.5" y="26.5" font-size="16">Rn &lt; 30 J m<tspan font-size="10" dy="-6">-2</tspan><tspan dy="6"> s</tspan><tspan font-size="10" dy="-6">-1</tspan></text>
<text x="268.8" y="27.0" font-size="17.5" text-anchor="start" >(b)</text>
<text x="304.0" y="27.0" font-size="16">30 ≤ Rn &lt; 180 J m<tspan font-size="10" dy="-6">-2</tspan><tspan dy="6"> s</tspan><tspan font-size="10" dy="-6">-1</tspan></text>
<text x="471.7" y="27.0" font-size="17.5" text-anchor="start" >(c)</text>
<text x="499.6" y="27.0" font-size="16">180 ≤ Rn &lt; 330 J m<tspan font-size="10" dy="-6">-2</tspan><tspan dy="6"> s</tspan><tspan font-size="10" dy="-6">-1</tspan></text>
<text x="72.0" y="232.5" font-size="17.5" text-anchor="start" >(d)</text>
<text x="98.3" y="232.5" font-size="16">330 ≤ Rn &lt; 480 J m<tspan font-size="10" dy="-6">-2</tspan><tspan dy="6"> s</tspan><tspan font-size="10" dy="-6">-1</tspan></text>
<text x="269.7" y="232.5" font-size="17.5" text-anchor="start" >(e)</text>
<text x="296.1" y="232.5" font-size="16">480 ≤ Rn &lt; 630 J m<tspan font-size="10" dy="-6">-2</tspan><tspan dy="6"> s</tspan><tspan font-size="10" dy="-6">-1</tspan></text>
<text x="472.8" y="232.5" font-size="17.5" text-anchor="start" >(f)</text>
<text x="519.3" y="232.5" font-size="16">Rn ≥ 630 J m<tspan font-size="10" dy="-6">-2</tspan><tspan dy="6"> s</tspan><tspan font-size="10" dy="-6">-1</tspan></text>
<text x="66.9" y="508.6" font-size="17.5" text-anchor="start" >(g)</text>
<text x="119.3" y="508.6" font-size="16">Rn &lt; 30 J m<tspan font-size="10" dy="-6">-2</tspan><tspan dy="6"> s</tspan><tspan font-size="10" dy="-6">-1</tspan></text>
<text x="268.8" y="508.6" font-size="17.5" text-anchor="start" >(h)</text>
<text x="298.2" y="508.6" font-size="16">30 ≤ Rn &lt; 180 J m<tspan font-size="10" dy="-6">-2</tspan><tspan dy="6"> s</tspan><tspan font-size="10" dy="-6">-1</tspan></text>
<text x="470.8" y="508.6" font-size="17.5" text-anchor="start" >(i)</text>
<text x="498.1" y="508.6" font-size="16">180 ≤ Rn &lt; 330 J m<tspan font-size="10" dy="-6">-2</tspan><tspan dy="6"> s</tspan><tspan font-size="10" dy="-6">-1</tspan></text>
<text x="70.7" y="717.0" font-size="17.5" text-anchor="start" >(j)</text>
<text x="92.1" y="717.0" font-size="16">330 ≤ Rn &lt; 480 J m<tspan font-size="10" dy="-6">-2</tspan><tspan dy="6"> s</tspan><tspan font-size="10" dy="-6">-1</tspan></text>
<text x="267.9" y="717.0" font-size="17.5" text-anchor="start" >(k)</text>
<text x="295.2" y="717.0" font-size="16">480 ≤ Rn &lt; 630 J m<tspan font-size="10" dy="-6">-2</tspan><tspan dy="6"> s</tspan><tspan font-size="10" dy="-6">-1</tspan></text>
<text x="472.8" y="717.0" font-size="17.5" text-anchor="start" >(l)</text>
<text x="519.3" y="717.0" font-size="16">Rn ≥ 630 J m<tspan font-size="10" dy="-6">-2</tspan><tspan dy="6"> s</tspan><tspan font-size="10" dy="-6">-1</tspan></text>
<line x1="136.3" y1="46.6" x2="170.9" y2="46.6" stroke="#80bbf0" stroke-width="1.6"/>
<rect x="151.3" y="44.1" width="5.0" height="5.0" fill="#80bbf0"/>
<text x="175" y="52" font-size="15" text-anchor="start" >pre-thinning</text>
<line x1="136.2" y1="529.3" x2="170.1" y2="529.3" stroke="#70be8e" stroke-width="1.6"/>
<circle cx="153.3" cy="529.3" r="2.7" fill="#70be8e"/>
<text x="175" y="534.7" font-size="15" text-anchor="start" >post-thinning</text>
<text transform="translate(20.2,101.8) rotate(-90)" x="0" y="0" font-size="17.7" text-anchor="middle">GPP (mg CO<tspan font-size="11" dy="4">2</tspan><tspan dy="-4"> m</tspan><tspan font-size="11" dy="-7">-2</tspan><tspan dy="7"> s</tspan><tspan font-size="11" dy="-7">-1</tspan><tspan dy="7">)</tspan></text>
<text transform="translate(20.2,305.0) rotate(-90)" x="0" y="0" font-size="17.7" text-anchor="middle">GPP (mg CO<tspan font-size="11" dy="4">2</tspan><tspan dy="-4"> m</tspan><tspan font-size="11" dy="-7">-2</tspan><tspan dy="7"> s</tspan><tspan font-size="11" dy="-7">-1</tspan><tspan dy="7">)</tspan></text>
<text transform="translate(20.0,581.8) rotate(-90)" x="0" y="0" font-size="17.7" text-anchor="middle">GPP (mg CO<tspan font-size="11" dy="4">2</tspan><tspan dy="-4"> m</tspan><tspan font-size="11" dy="-7">-2</tspan><tspan dy="7"> s</tspan><tspan font-size="11" dy="-7">-1</tspan><tspan dy="7">)</tspan></text>
<text transform="translate(20.0,787.8) rotate(-90)" x="0" y="0" font-size="17.7" text-anchor="middle">GPP (mg CO<tspan font-size="11" dy="4">2</tspan><tspan dy="-4"> m</tspan><tspan font-size="11" dy="-7">-2</tspan><tspan dy="7"> s</tspan><tspan font-size="11" dy="-7">-1</tspan><tspan dy="7">)</tspan></text>
<rect x="57.1" y="965.0" width="278.5" height="224.0" fill="none" stroke="#1a1a1a" stroke-width="1.8"/>
<line x1="57.1" y1="1189.0" x2="61.1" y2="1189.0" stroke="#1a1a1a" stroke-width="1.3"/>
<text x="52" y="1193.4" font-size="14.5" text-anchor="end" >0.6</text>
<line x1="57.1" y1="1164.1" x2="59.6" y2="1164.1" stroke="#1a1a1a" stroke-width="1.3"/>
<line x1="57.1" y1="1139.2" x2="61.1" y2="1139.2" stroke="#1a1a1a" stroke-width="1.3"/>
<text x="52" y="1143.6" font-size="14.5" text-anchor="end" >0.8</text>
<line x1="57.1" y1="1114.3" x2="59.6" y2="1114.3" stroke="#1a1a1a" stroke-width="1.3"/>
<line x1="57.1" y1="1089.4" x2="61.1" y2="1089.4" stroke="#1a1a1a" stroke-width="1.3"/>
<text x="52" y="1093.8" font-size="14.5" text-anchor="end" >1.0</text>
<line x1="57.1" y1="1064.6" x2="59.6" y2="1064.6" stroke="#1a1a1a" stroke-width="1.3"/>
<line x1="57.1" y1="1039.7" x2="61.1" y2="1039.7" stroke="#1a1a1a" stroke-width="1.3"/>
<text x="52" y="1044.1" font-size="14.5" text-anchor="end" >1.2</text>
<line x1="57.1" y1="1014.8" x2="59.6" y2="1014.8" stroke="#1a1a1a" stroke-width="1.3"/>
<line x1="57.1" y1="989.9" x2="61.1" y2="989.9" stroke="#1a1a1a" stroke-width="1.3"/>
<text x="52" y="994.3" font-size="14.5" text-anchor="end" >1.4</text>
<text x="57.1" y="1205.0" font-size="14.5" text-anchor="middle" >200</text>
<line x1="80.3" y1="1189.0" x2="80.3" y2="1186.5" stroke="#1a1a1a" stroke-width="1.3"/>
<line x1="103.5" y1="1189.0" x2="103.5" y2="1185.0" stroke="#1a1a1a" stroke-width="1.3"/>
<text x="103.5" y="1205.0" font-size="14.5" text-anchor="middle" >300</text>
<line x1="126.7" y1="1189.0" x2="126.7" y2="1186.5" stroke="#1a1a1a" stroke-width="1.3"/>
<line x1="149.9" y1="1189.0" x2="149.9" y2="1185.0" stroke="#1a1a1a" stroke-width="1.3"/>
<text x="149.9" y="1205.0" font-size="14.5" text-anchor="middle" >400</text>
<line x1="173.1" y1="1189.0" x2="173.1" y2="1186.5" stroke="#1a1a1a" stroke-width="1.3"/>
<line x1="196.3" y1="1189.0" x2="196.3" y2="1185.0" stroke="#1a1a1a" stroke-width="1.3"/>
<text x="196.3" y="1205.0" font-size="14.5" text-anchor="middle" >500</text>
<line x1="219.6" y1="1189.0" x2="219.6" y2="1186.5" stroke="#1a1a1a" stroke-width="1.3"/>
<line x1="242.8" y1="1189.0" x2="242.8" y2="1185.0" stroke="#1a1a1a" stroke-width="1.3"/>
<text x="242.8" y="1205.0" font-size="14.5" text-anchor="middle" >600</text>
<line x1="266.0" y1="1189.0" x2="266.0" y2="1186.5" stroke="#1a1a1a" stroke-width="1.3"/>
<line x1="289.2" y1="1189.0" x2="289.2" y2="1185.0" stroke="#1a1a1a" stroke-width="1.3"/>
<text x="289.2" y="1205.0" font-size="14.5" text-anchor="middle" >700</text>
<line x1="312.4" y1="1189.0" x2="312.4" y2="1186.5" stroke="#1a1a1a" stroke-width="1.3"/>
<text x="335.6" y="1205.0" font-size="14.5" text-anchor="middle" >800</text>
<text x="196.4" y="1224.0" font-size="18.5" text-anchor="middle">Rn (J m<tspan font-size="13" dy="-7.5">-2</tspan><tspan dy="7.5"> s</tspan><tspan font-size="13" dy="-7.5">-1</tspan><tspan dy="7.5">)</tspan></text>
<rect x="393.6" y="965.0" width="278.79999999999995" height="223.5999999999999" fill="none" stroke="#1a1a1a" stroke-width="1.8"/>
<line x1="393.6" y1="1188.6" x2="397.6" y2="1188.6" stroke="#1a1a1a" stroke-width="1.3"/>
<text x="388" y="1193.0" font-size="14.5" text-anchor="end" >0.4</text>
<line x1="393.6" y1="1168.3" x2="396.1" y2="1168.3" stroke="#1a1a1a" stroke-width="1.3"/>
<line x1="393.6" y1="1147.9" x2="397.6" y2="1147.9" stroke="#1a1a1a" stroke-width="1.3"/>
<text x="388" y="1152.3" font-size="14.5" text-anchor="end" >0.6</text>
<line x1="393.6" y1="1127.6" x2="396.1" y2="1127.6" stroke="#1a1a1a" stroke-width="1.3"/>
<line x1="393.6" y1="1107.3" x2="397.6" y2="1107.3" stroke="#1a1a1a" stroke-width="1.3"/>
<text x="388" y="1111.7" font-size="14.5" text-anchor="end" >0.8</text>
<line x1="393.6" y1="1087.0" x2="396.1" y2="1087.0" stroke="#1a1a1a" stroke-width="1.3"/>
<line x1="393.6" y1="1066.6" x2="397.6" y2="1066.6" stroke="#1a1a1a" stroke-width="1.3"/>
<text x="388" y="1071.0" font-size="14.5" text-anchor="end" >1.0</text>
<line x1="393.6" y1="1046.3" x2="396.1" y2="1046.3" stroke="#1a1a1a" stroke-width="1.3"/>
<line x1="393.6" y1="1026.0" x2="397.6" y2="1026.0" stroke="#1a1a1a" stroke-width="1.3"/>
<text x="388" y="1030.4" font-size="14.5" text-anchor="end" >1.2</text>
<line x1="393.6" y1="1005.7" x2="396.1" y2="1005.7" stroke="#1a1a1a" stroke-width="1.3"/>
<line x1="393.6" y1="985.3" x2="397.6" y2="985.3" stroke="#1a1a1a" stroke-width="1.3"/>
<text x="388" y="989.7" font-size="14.5" text-anchor="end" >1.4</text>
<text x="393.6" y="1204.6" font-size="14.5" text-anchor="middle" >200</text>
<line x1="416.8" y1="1188.6" x2="416.8" y2="1186.1" stroke="#1a1a1a" stroke-width="1.3"/>
<line x1="440.1" y1="1188.6" x2="440.1" y2="1184.6" stroke="#1a1a1a" stroke-width="1.3"/>
<text x="440.1" y="1204.6" font-size="14.5" text-anchor="middle" >300</text>
<line x1="463.3" y1="1188.6" x2="463.3" y2="1186.1" stroke="#1a1a1a" stroke-width="1.3"/>
<line x1="486.5" y1="1188.6" x2="486.5" y2="1184.6" stroke="#1a1a1a" stroke-width="1.3"/>
<text x="486.5" y="1204.6" font-size="14.5" text-anchor="middle" >400</text>
<line x1="509.8" y1="1188.6" x2="509.8" y2="1186.1" stroke="#1a1a1a" stroke-width="1.3"/>
<line x1="533.0" y1="1188.6" x2="533.0" y2="1184.6" stroke="#1a1a1a" stroke-width="1.3"/>
<text x="533.0" y="1204.6" font-size="14.5" text-anchor="middle" >500</text>
<line x1="556.2" y1="1188.6" x2="556.2" y2="1186.1" stroke="#1a1a1a" stroke-width="1.3"/>
<line x1="579.5" y1="1188.6" x2="579.5" y2="1184.6" stroke="#1a1a1a" stroke-width="1.3"/>
<text x="579.5" y="1204.6" font-size="14.5" text-anchor="middle" >600</text>
<line x1="602.7" y1="1188.6" x2="602.7" y2="1186.1" stroke="#1a1a1a" stroke-width="1.3"/>
<line x1="625.9" y1="1188.6" x2="625.9" y2="1184.6" stroke="#1a1a1a" stroke-width="1.3"/>
<text x="625.9" y="1204.6" font-size="14.5" text-anchor="middle" >700</text>
<line x1="649.2" y1="1188.6" x2="649.2" y2="1186.1" stroke="#1a1a1a" stroke-width="1.3"/>
<text x="672.4" y="1204.6" font-size="14.5" text-anchor="middle" >800</text>
<text x="533.0" y="1223.6" font-size="18.5" text-anchor="middle">Rn (J m<tspan font-size="13" dy="-7.5">-2</tspan><tspan dy="7.5"> s</tspan><tspan font-size="13" dy="-7.5">-1</tspan><tspan dy="7.5">)</tspan></text>
<line x1="57.1" y1="1027.5" x2="333.5" y2="1027.5" stroke="#70be8e" stroke-width="1.5" stroke-dasharray="7.7 4 3 3.5 3 4"/>
<line x1="57.1" y1="1049.7" x2="333.5" y2="1049.7" stroke="#80bbf0" stroke-width="1.5" stroke-dasharray="7.7 4 3 3.5 3 4"/>
<text x="75" y="1019" font-size="15" text-anchor="start" >post-thinning optimum : 1.25 kPa</text>
<text x="75" y="1063" font-size="15" text-anchor="start" >pre-thinning optimum : 1.16 kPa</text>
<text x="67.2" y="987.8" font-size="15.5" text-anchor="start" >(m)</text>
<polyline points="82.3,1158.4 152.3,1153.5 214.4,1141.2 285.9,1099.9" fill="none" stroke="#80bbf0" stroke-width="1.5" stroke-linejoin="round"/>
<rect x="79.8" y="1155.9" width="5" height="5" fill="#80bbf0"/>
<rect x="149.8" y="1151.0" width="5" height="5" fill="#80bbf0"/>
<rect x="211.9" y="1138.7" width="5" height="5" fill="#80bbf0"/>
<rect x="283.4" y="1097.4" width="5" height="5" fill="#80bbf0"/>
<polyline points="83.6,1133.4 153.1,1137.1 213.2,1128.9 285.9,1065.2" fill="none" stroke="#70be8e" stroke-width="1.5" stroke-linejoin="round"/>
<circle cx="83.6" cy="1133.4" r="2.8" fill="#70be8e"/>
<circle cx="153.1" cy="1137.1" r="2.8" fill="#70be8e"/>
<circle cx="213.2" cy="1128.9" r="2.8" fill="#70be8e"/>
<circle cx="285.9" cy="1065.2" r="2.8" fill="#70be8e"/>
<text transform="translate(24.2,1075.8) rotate(-90)" font-size="17" text-anchor="middle">VPD<tspan font-size="11.5" dy="4">opt</tspan><tspan dy="-4"> (kPa)</tspan></text>
<text x="403.0" y="987.8" font-size="15.5" text-anchor="start" >(n)</text>
<polyline points="418.3,1151.0 489.1,1115.9 551.2,1093.0 622.8,1070.9" fill="none" stroke="#80bbf0" stroke-width="1.5" stroke-linejoin="round"/>
<rect x="415.8" y="1148.5" width="5" height="5" fill="#80bbf0"/>
<rect x="486.6" y="1113.4" width="5" height="5" fill="#80bbf0"/>
<rect x="548.7" y="1090.5" width="5" height="5" fill="#80bbf0"/>
<rect x="620.3" y="1068.4" width="5" height="5" fill="#80bbf0"/>
<polyline points="419.6,1136.3 489.5,1101.1 549.6,1081.9 622.8,1043.5" fill="none" stroke="#70be8e" stroke-width="1.5" stroke-linejoin="round"/>
<circle cx="419.6" cy="1136.3" r="2.8" fill="#70be8e"/>
<circle cx="489.5" cy="1101.1" r="2.8" fill="#70be8e"/>
<circle cx="549.6" cy="1081.9" r="2.8" fill="#70be8e"/>
<circle cx="622.8" cy="1043.5" r="2.8" fill="#70be8e"/>
<line x1="544.3" y1="984.6" x2="578.3" y2="984.6" stroke="#80bbf0" stroke-width="1.5"/>
<rect x="558.4" y="982.4" width="4.5" height="4.5" fill="#80bbf0"/>
<text x="580.5" y="989.8" font-size="15" text-anchor="start" >pre-thinning</text>
<line x1="544.3" y1="1004.2" x2="578.3" y2="1004.2" stroke="#70be8e" stroke-width="1.5"/>
<circle cx="560.6" cy="1004.2" r="2.5" fill="#70be8e"/>
<text x="580.5" y="1009.4" font-size="15" text-anchor="start" >post-thinning</text>
<text transform="translate(362.3,1073) rotate(-90)" font-size="16.6" text-anchor="middle">GPP<tspan font-size="12" dy="4">max</tspan><tspan dy="-4"> (mg CO</tspan><tspan font-size="11" dy="4">2</tspan><tspan dy="-4"> m</tspan><tspan font-size="11" dy="-7">-2</tspan><tspan dy="7"> s</tspan><tspan font-size="11" dy="-7">-1</tspan><tspan dy="7">)</tspan></text>
</g></svg></body></html>
